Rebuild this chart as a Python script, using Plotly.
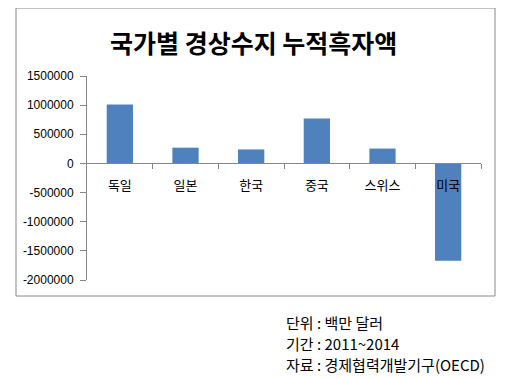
import plotly.graph_objects as go

categories = ["독일", "일본", "한국", "중국", "스위스", "미국"]
values = [1010000, 270000, 240000, 770000, 255000, -1670000]
y_ticks = [1500000, 1000000, 500000, 0, -500000, -1000000, -1500000, -2000000]
title_text = "국가별 경상수지 누적흑자액"
notes = ["단위 : 백만 달러", "기간 : 2011~2014", "자료 : 경제협력개발기구(OECD)"]

# page body has an 8px default margin, so the figure is drawn 8px in
OFF = 8
W, H = 520 - OFF, 378 - OFF
L, R, T, B = 87 - OFF, 39, 76 - OFF, 98
pw, ph = W - L - R, H - T - B
ymin, ymax = -2000000, 1500000
zero_pos = (0 - ymin) / (ymax - ymin)

def px_x(x):
    return (x - OFF - L) / pw

def px_y(y):
    return 1 - (y - OFF - T) / ph

fig = go.Figure()
fig.add_trace(go.Bar(x=categories, y=values, marker_color="#4F81BD",
                     marker_line_width=0, width=0.4, hoverinfo="x+y"))
fig.add_trace(go.Bar(x=categories, y=[0] * len(categories), xaxis="x2",
                     showlegend=False, hoverinfo="skip", marker_opacity=0))

fig.update_layout(
    width=W, height=H,
    margin=dict(l=L, r=R, t=T, b=B, autoexpand=False),
    paper_bgcolor="white", plot_bgcolor="white",
    showlegend=False,
    barmode="overlay",
    xaxis=dict(
        type="category", anchor="free", position=zero_pos, automargin=False,
        showline=True, linecolor="#868686", linewidth=1,
        ticks="outside", ticklen=5, tickcolor="#868686",
        tickmode="array", tickvals=[i + 0.5 for i in range(len(categories))],
        showticklabels=False, showgrid=False, zeroline=False,
        range=[-0.5, len(categories) - 0.5],
    ),
    xaxis2=dict(
        type="category", overlaying="x", anchor="free", position=zero_pos,
        automargin=False, showline=False, ticks="", showgrid=False, zeroline=False,
        tickfont=dict(family="Noto Sans CJK KR", size=13, color="#000"),
        ticklabelstandoff=13, matches="x",
    ),
    yaxis=dict(
        range=[ymin, ymax], tickmode="array", tickvals=y_ticks,
        ticktext=[str(v) for v in y_ticks], automargin=False,
        showline=True, linecolor="#868686", linewidth=1,
        ticks="outside", ticklen=6, tickcolor="#868686",
        showgrid=False, zeroline=False, ticklabelstandoff=4,
        tickfont=dict(family="Liberation Sans", size=12, color="#000"),
    ),
)

# outer chart border
fig.add_shape(type="rect", xref="paper", yref="paper",
              x0=px_x(16), x1=px_x(495), y0=px_y(296), y1=px_y(8),
              line=dict(color="#888888", width=1), fillcolor="rgba(0,0,0,0)",
              layer="below")

fig.add_annotation(text="<b>" + title_text + "</b>", xref="paper", yref="paper",
                   x=px_x(253), y=px_y(42), showarrow=False,
                   xanchor="center", yanchor="middle",
                   font=dict(family="Noto Sans CJK KR", size=25, color="#000"))

for i, line in enumerate(notes):
    fig.add_annotation(text=line, xref="paper", yref="paper",
                       x=px_x(284), y=px_y(322 + 21 * i), showarrow=False,
                       xanchor="left", yanchor="middle",
                       font=dict(family="Noto Sans CJK KR", size=15, color="#000"))

fig.write_html("out.html")
